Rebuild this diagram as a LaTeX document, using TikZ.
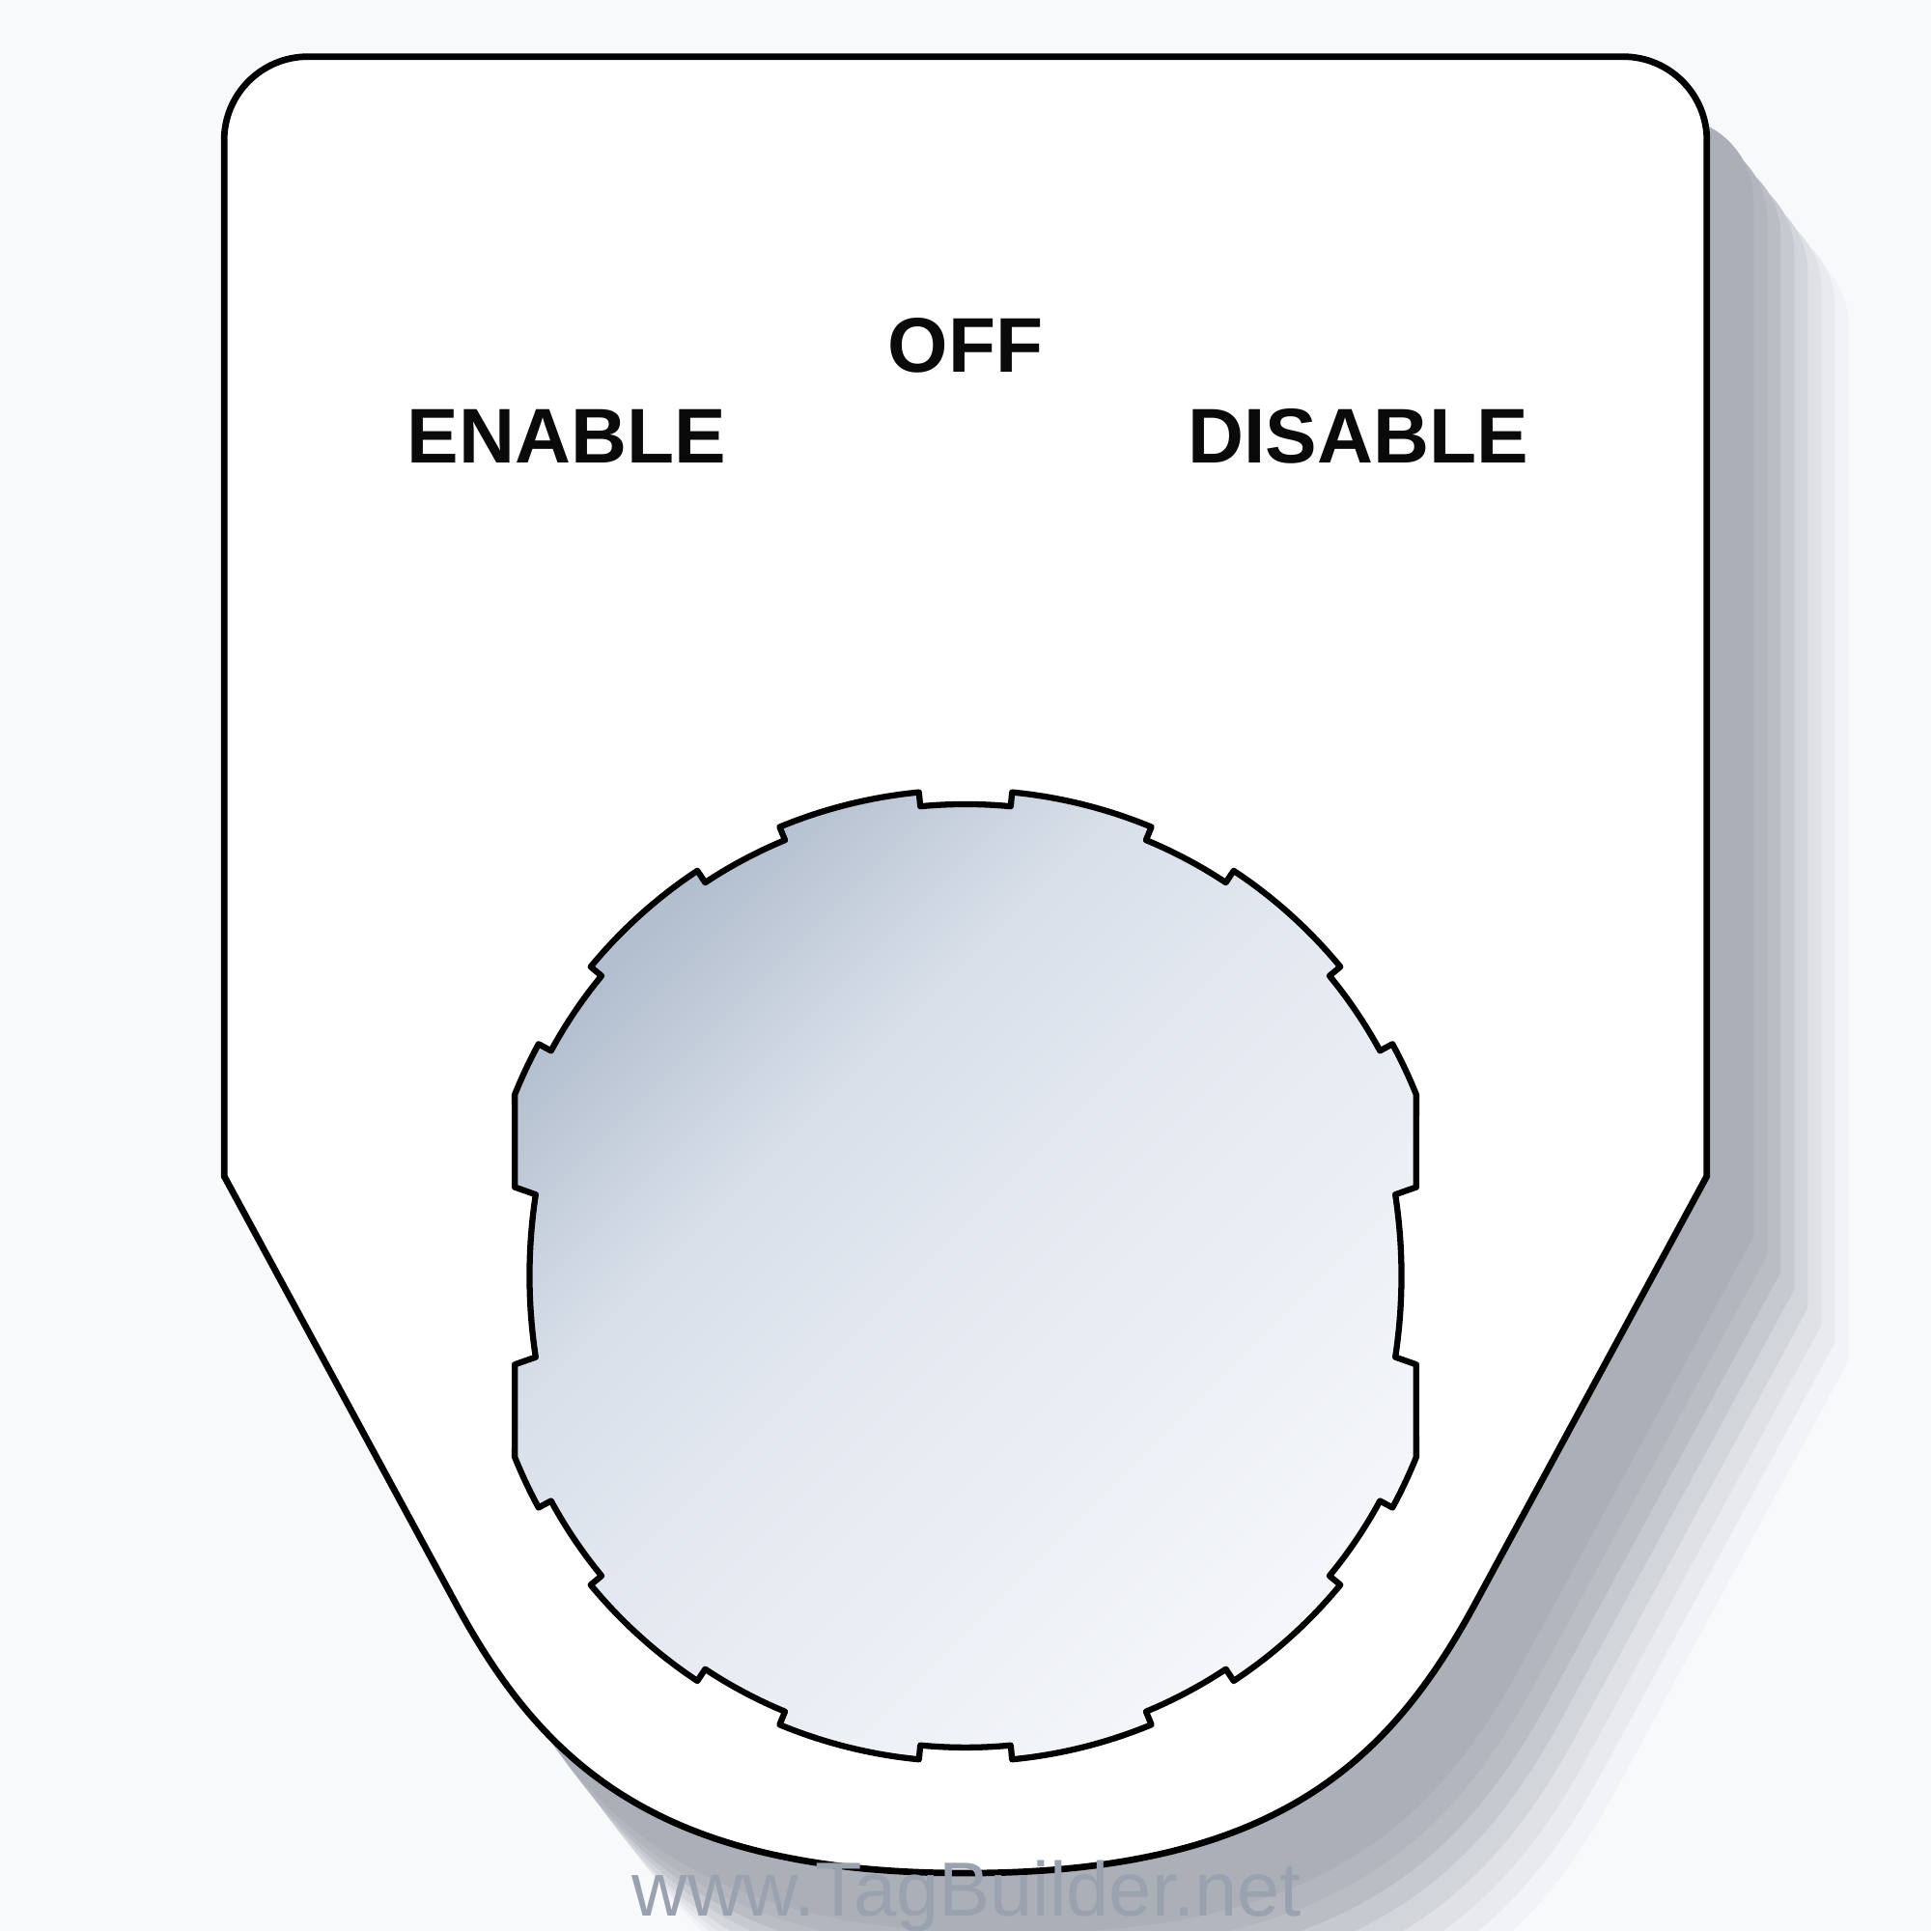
\documentclass[tikz,border=0pt]{standalone}
\usepackage{fontspec}
\setmainfont{Liberation Sans}

\definecolor{bgcol}{RGB}{248,249,251}
\definecolor{shadowcol}{RGB}{171,175,183}
\definecolor{holeA}{RGB}{179,191,207}
\definecolor{holeB}{RGB}{216,223,233}
\definecolor{holeC}{RGB}{228,233,241}
\definecolor{holeD}{RGB}{244,246,249}
\definecolor{markcol}{RGB}{155,162,175}

\pgfdeclarehorizontalshading{holeshade}{100bp}{color(0bp)=(holeA); color(25bp)=(holeA);
  color(38bp)=(holeB); color(50bp)=(holeC); color(75bp)=(holeD); color(100bp)=(holeD)}

% outline of the tag, one unit = 0.1mm
\newcommand{\tagoutline}{(182,1454) -- (182,613) -- (369,268)
  .. controls (440,136) and (534,47) .. (784,47)
  .. controls (1034,47) and (1128,136) .. (1199,268)
  -- (1386,613) -- (1386,1454) arc[start angle=0, end angle=90, radius=68]
  -- (250,1522) arc[start angle=90, end angle=180, radius=68] -- cycle}

\begin{document}
\begin{tikzpicture}[x=0.01cm,y=0.01cm,line join=round,
    tagline/.style={draw=black,line width=1.5pt,fill=white},
    holeline/.style={draw=black,line width=1.4pt,shade,shading=holeshade,shading angle=-45},
    tagtext/.style={anchor=base,text=black!96,font=\fontsize{17.9pt}{22pt}\selectfont\bfseries},
    webmark/.style={anchor=base,text=markcol,font=\fontsize{17.7pt}{21pt}\selectfont}]
  \useasboundingbox (0,0) rectangle (1568,1568);
  \clip (0,0) rectangle (1568,1568);
  \fill[bgcol] (0,0) rectangle (1568,1568);

  % Shadow, outer layers first.
  \foreach \dx/\dy/\p in {115/150/8,104/135/21,93/121/32,82/107/49,
                          71/92/65,60/78/81,49/64/90,38/49/100} {
    \fill[shadowcol!\p!bgcol,shift={(\dx,-\dy)}] \tagoutline;
  }

  % Tag.
  \path[tagline] \tagoutline;

  % Keyed hole.
  \def\ra{383}
  \def\rb{394.5}
  \begin{scope}[shift={(784,532)}]
    \path[holeline] (21.9:\rb) arc[start angle=21.9, end angle=28.5, radius=\rb]
      \foreach \a/\b in {34/56.5,62/84.5,90/112.5,118/140.5,146/158.1} {
        -- (\a-5.5:\ra) arc[start angle=\a-5.5, end angle=\a+5.5, radius=\ra]
        -- (\a+5.5:\rb) arc[start angle=\a+5.5, end angle=\b, radius=\rb]
      }
      -- (-366,72) -- (-349,66) arc[start angle=171.33, end angle=188.67, radius=438]
      -- (-366,-72) -- (201.9:\rb) arc[start angle=201.9, end angle=208.5, radius=\rb]
      \foreach \a/\b in {214/236.5,242/264.5,270/292.5,298/320.5,326/338.1} {
        -- (\a-5.5:\ra) arc[start angle=\a-5.5, end angle=\a+5.5, radius=\ra]
        -- (\a+5.5:\rb) arc[start angle=\a+5.5, end angle=\b, radius=\rb]
      }
      -- (366,-72) -- (349,-66) arc[start angle=-8.67, end angle=8.67, radius=438]
      -- (366,72) -- cycle;
  \end{scope}

  % Labels.
  \node[tagtext] (off) at (784,1266) {OFF};
  \node[tagtext] (enable) at (460,1192) {ENABLE};
  \node[tagtext] (disable) at (1103,1192) {DISABLE};

  \node[webmark] (site) at (785,12) {www.TagBuilder.net};
\end{tikzpicture}
\end{document}
